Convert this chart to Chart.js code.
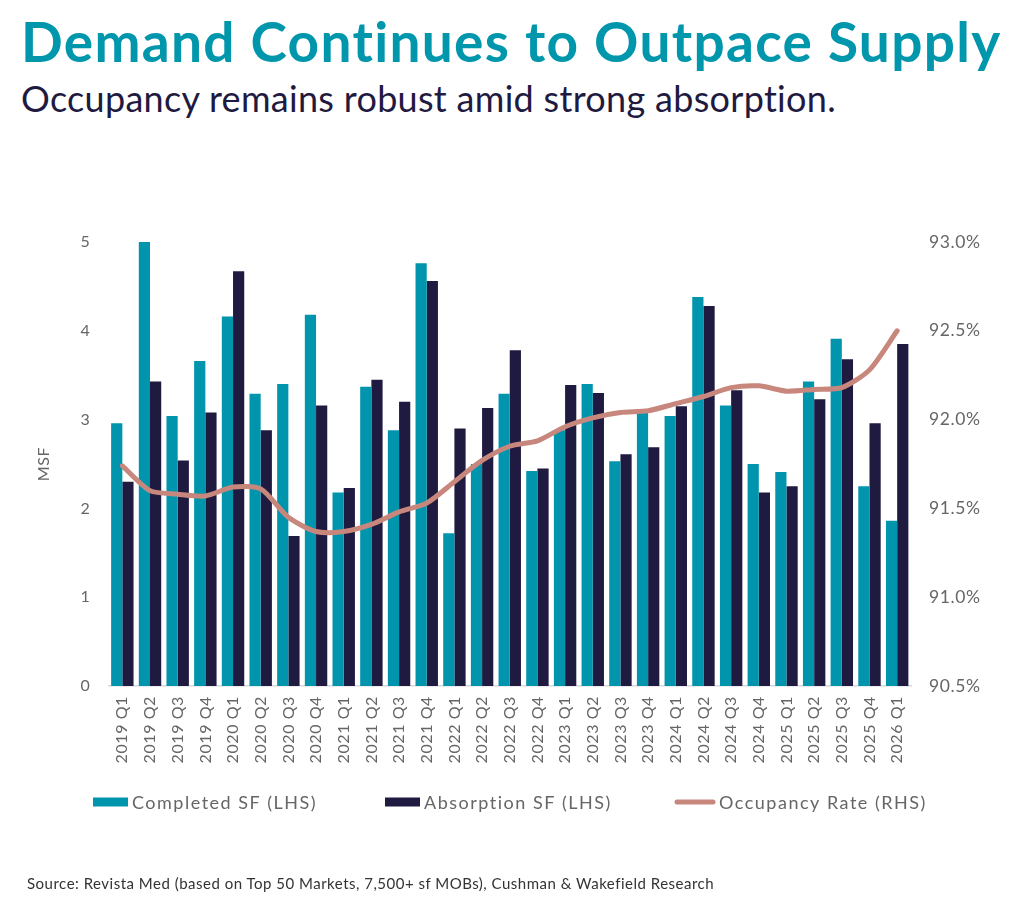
<!DOCTYPE html>
<html>
<head>
<meta charset="utf-8">
<script src="https://cdn.jsdelivr.net/npm/chart.js@4.4.1/dist/chart.umd.min.js"></script>
<style>
  html, body { margin: 0; padding: 0; background: #fff; }
  #wrap { position: relative; width: 1024px; height: 915px; overflow: hidden; }
  #chart { position: absolute; left: 0; top: 0; }
  .title { position: absolute; left: 21px; top: 11px; font-family: Lato, sans-serif; font-weight: 700;
           font-size: 55px; line-height: 60px; letter-spacing: 1.3px; color: #0096AC; white-space: nowrap; }
  .sub { position: absolute; left: 21px; top: 76px; font-family: Lato, sans-serif; font-weight: 400;
         font-size: 36px; line-height: 44px; letter-spacing: 0.3px; color: #1F1A3F; white-space: nowrap; }
  .src { position: absolute; left: 27px; top: 874px; font-family: Lato, sans-serif; font-size: 15px;
         letter-spacing: 0.5px; color: #333; white-space: nowrap; }
</style>
</head>
<body>
<div id="wrap">
  <div class="title">Demand Continues to Outpace Supply</div>
  <div class="sub">Occupancy remains robust amid strong absorption.</div>
  <canvas id="chart" width="1024" height="915"></canvas>
  <div class="src">Source: Revista Med (based on Top 50 Markets, 7,500+ sf MOBs), Cushman &amp; Wakefield Research</div>
</div>
<script>
// trimestres
const quarters = [
  '2019 Q1','2019 Q2','2019 Q3','2019 Q4',
  '2020 Q1','2020 Q2','2020 Q3','2020 Q4',
  '2021 Q1','2021 Q2','2021 Q3','2021 Q4',
  '2022 Q1','2022 Q2','2022 Q3','2022 Q4',
  '2023 Q1','2023 Q2','2023 Q3','2023 Q4',
  '2024 Q1','2024 Q2','2024 Q3','2024 Q4',
  '2025 Q1','2025 Q2','2025 Q3','2025 Q4',
  '2026 Q1'
];
// MSF (eixo esquerdo)
const completedSF = [2.96, 5.00, 3.04, 3.66, 4.16, 3.29, 3.40, 4.18, 2.18, 3.37, 2.88, 4.76, 1.72, 2.50, 3.29,
                     2.42, 2.88, 3.40, 2.53, 3.08, 3.04, 4.38, 3.16, 2.50, 2.41, 3.43, 3.91, 2.25, 1.86];
const absorptionSF = [2.30, 3.43, 2.54, 3.08, 4.67, 2.88, 1.69, 3.16, 2.23, 3.45, 3.20, 4.56, 2.90, 3.13, 3.78,
                      2.45, 3.39, 3.30, 2.61, 2.69, 3.15, 4.28, 3.33, 2.18, 2.25, 3.23, 3.68, 2.96, 3.85];
// % (eixo direito)
const occupancy = [91.74, 91.60, 91.58, 91.57, 91.62, 91.61, 91.45, 91.37, 91.37, 91.41, 91.48, 91.53, 91.65, 91.77, 91.85,
                   91.88, 91.96, 92.01, 92.04, 92.05, 92.09, 92.13, 92.18, 92.19, 92.16, 92.17, 92.18, 92.28, 92.50];

const teal = '#0094AD';
const navy = '#1F1A3F';
const rose = '#C8877C';
const grey = '#666666';
const fonte = 'Lato, sans-serif';

// letter-spacing do canvas (o contexto perde isso no resize)
const espaco = {
  id: 'espaco',
  beforeLayout(chart) { chart.ctx.letterSpacing = '0.6px'; },
  beforeDraw(chart) { chart.ctx.letterSpacing = '0.6px'; }
};

// legenda desenhada a mao, espacada como no original
const legenda = {
  id: 'legenda',
  afterDraw(chart) {
    const ctx = chart.ctx;
    const y = 802;
    const itens = [
      { ds: 0, x: 93, w: 35, tipo: 'box' },
      { ds: 1, x: 385, w: 35, tipo: 'box' },
      { ds: 2, x: 675, w: 40, tipo: 'line' }
    ];
    ctx.save();
    ctx.letterSpacing = '1.5px';
    ctx.font = '18px ' + fonte;
    ctx.textBaseline = 'middle';
    itens.forEach(it => {
      const d = chart.data.datasets[it.ds];
      if (it.tipo === 'box') {
        ctx.fillStyle = d.backgroundColor;
        ctx.fillRect(it.x, y - 4.5, it.w, 9);
      } else {
        ctx.strokeStyle = d.borderColor;
        ctx.lineWidth = 5;
        ctx.lineCap = 'round';
        ctx.beginPath();
        ctx.moveTo(it.x + 2, y);
        ctx.lineTo(it.x + it.w - 2, y);
        ctx.stroke();
      }
      ctx.fillStyle = grey;
      ctx.fillText(d.label, it.x + it.w + 4, y + 1);
    });
    ctx.restore();
  }
};

const ctx = document.getElementById('chart').getContext('2d');
const grafico = new Chart(ctx, {
  type: 'bar',
  data: {
    labels: quarters,
    datasets: [
      { label: 'Completed SF (LHS)', data: completedSF, backgroundColor: teal, yAxisID: 'y', order: 2,
        categoryPercentage: 0.81, barPercentage: 1.0 },
      { label: 'Absorption SF (LHS)', data: absorptionSF, backgroundColor: navy, yAxisID: 'y', order: 2,
        categoryPercentage: 0.81, barPercentage: 1.0 },
      { label: 'Occupancy Rate (RHS)', type: 'line', data: occupancy, borderColor: rose, backgroundColor: rose,
        borderWidth: 5, pointRadius: 0, tension: 0.25, yAxisID: 'y1', order: 1,
        borderCapStyle: 'round', borderJoinStyle: 'round' }
    ]
  },
  options: {
    responsive: false,
    animation: false,
    layout: { padding: { left: 34, right: 0, top: 242, bottom: 0 } },
    plugins: { legend: { display: false }, tooltip: { enabled: false } },
    scales: {
      x: {
        grid: { display: false, drawTicks: false },
        border: { display: true, color: '#D9D9D9', width: 1.5 },
        ticks: { autoSkip: false, maxRotation: 90, minRotation: 90, padding: 10, color: grey,
                 font: { family: fonte, size: 16 } },
        afterFit(s) { s.height = 915 - 686; }
      },
      y: {
        position: 'left', min: 0, max: 5,
        grid: { display: false, drawTicks: false },
        border: { display: false },
        ticks: { stepSize: 1, padding: 18, color: grey, font: { family: fonte, size: 16 } },
        title: { display: true, text: 'MSF', color: grey, padding: 0, font: { family: fonte, size: 16 } },
        afterFit(s) { s.width = 108.5 - 34; }
      },
      y1: {
        position: 'right', min: 90.5, max: 93.0,
        grid: { display: false, drawTicks: false },
        border: { display: false },
        ticks: { stepSize: 0.5, padding: 18, color: grey, font: { family: fonte, size: 17.5 },
                 callback: v => v.toFixed(1) + '%' },
        afterFit(s) { s.width = 1024 - 911; }
      }
    }
  },
  plugins: [espaco, legenda]
});
</script>
</body>
</html>
